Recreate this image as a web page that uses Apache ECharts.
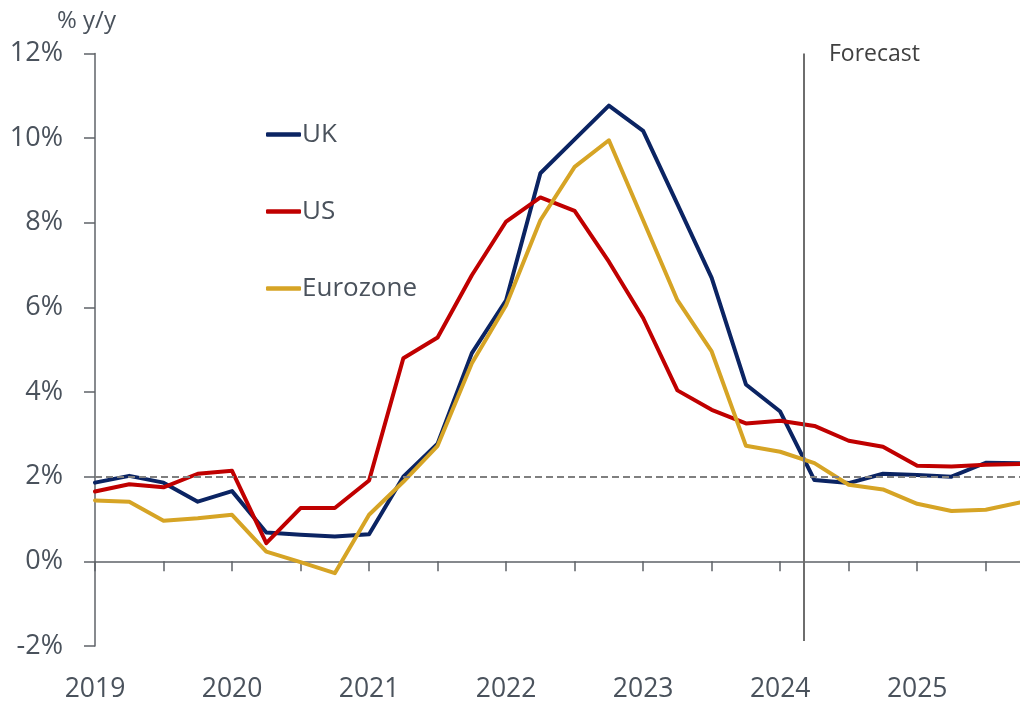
<!DOCTYPE html>
<html>
<head>
<meta charset="utf-8">
<title>CPI inflation</title>
<script src="https://cdn.jsdelivr.net/npm/echarts@6/dist/echarts.min.js"></script>
<style>
  html, body { margin: 0; padding: 0; background: #fff; }
  #chart { width: 1020px; height: 705px; }
</style>
</head>
<body>
<div id="chart"></div>
<script>
/*global echarts */

// ------------------------------ BEGIN DATA ---------------------------------
// quarterly, 2019 Q1 .. 2025 Q4 (index 0..27)
var years = ['2019', '2020', '2021', '2022', '2023', '2024', '2025'];
var seriesNames = ['UK', 'US', 'Eurozone'];
var ukValues = [
  1.86, 2.02, 1.86, 1.41, 1.66, 0.68, 0.63, 0.59, 0.64, 2.00, 2.78, 4.92, 6.17, 9.17,
  9.97, 10.77, 10.17, 8.44, 6.70, 4.18, 3.54, 1.92, 1.85, 2.07, 2.04, 2.00, 2.33, 2.32
];
var usValues = [
  1.65, 1.82, 1.75, 2.07, 2.14, 0.43, 1.26, 1.26, 1.91, 4.80, 5.29, 6.76, 8.03, 8.60,
  8.28, 7.08, 5.75, 4.04, 3.58, 3.26, 3.32, 3.20, 2.85, 2.71, 2.26, 2.24, 2.28, 2.30
];
var ezValues = [
  1.44, 1.41, 0.96, 1.02, 1.10, 0.23, -0.02, -0.28, 1.10, 1.88, 2.73, 4.68, 6.05, 8.06,
  9.32, 9.95, 8.06, 6.17, 4.96, 2.73, 2.59, 2.32, 1.81, 1.70, 1.36, 1.19, 1.22, 1.39
];
var targetRate = 2;
var forecastStart = 20.7;   // quarter index where the forecast begins
// ------------------------------- END DATA ----------------------------------

var chartCpi = (function () {
  var
    colorMap = { UK : '#0b2463', US : '#c00000', Eurozone : '#d6a425' },
    textColor = '#4a525c',
    axisColor = '#5f6368',
    fontFamily = '"Open Sans", "Noto Sans", sans-serif',
    lastIndex = ukValues.length - 1,

    toPairs, makeSeries, renderChart
  ;

  // Begin utility /toPairs/
  toPairs = function (values) {
    return values.map(function (v, i) { return [i, v]; });
  };
  // End utility /toPairs/

  // Begin utility /makeSeries/
  makeSeries = function (name, values) {
    return {
      name : name,
      type : 'line',
      data : toPairs(values),
      symbol : 'none',
      smooth : false,
      lineStyle : { color : colorMap[name], width : 4, cap : 'round', join : 'round' },
      itemStyle : { color : colorMap[name] },
      z : 3
    };
  };
  // End utility /makeSeries/

  // Begin DOM method /renderChart/
  renderChart = function () {
    var myChart, option, series, tickValues = [], i;

    myChart = echarts.init(document.getElementById('chart'), null, { renderer : 'canvas' });

    // a tick every half year, none at the right edge
    for (i = 0; i < lastIndex; i += 2) { tickValues.push(i); }

    series = [
      makeSeries('UK', ukValues),
      makeSeries('US', usValues),
      makeSeries('Eurozone', ezValues)
    ];

    // target line and forecast divider hang off the first series
    series[0].markLine = {
      silent : true,
      symbol : 'none',
      label : { show : false },
      animation : false,
      data : [
        {
          yAxis : targetRate,
          lineStyle : { color : '#7f7f7f', width : 2, type : [7, 4] }
        },
        [
          { coord : [forecastStart, 12], lineStyle : { color : '#6e6e6e', width : 2, type : 'solid' } },
          { coord : [forecastStart, -1.88] }
        ]
      ]
    };

    option = {
      animation : false,
      backgroundColor : '#ffffff',
      textStyle : { fontFamily : fontFamily },
      grid : {
        left : 95, right : 0, top : 53.5, bottom : 59,
        containLabel : false, outerBoundsMode : 'none'
      },
      legend : {
        data : seriesNames,
        orient : 'vertical',
        left : 261,
        top : 116.5,
        itemWidth : 35,
        itemHeight : 4.5,
        itemGap : 51,
        icon : 'roundRect',
        textStyle : {
          color : textColor, fontSize : 26, lineHeight : 26,
          fontFamily : fontFamily, padding : [0, 0, 0, -4]
        }
      },
      graphic : [
        {
          type : 'text', left : 57, top : 9,
          style : { text : '% y/y', fill : textColor, fontSize : 24, fontFamily : fontFamily }
        },
        {
          type : 'text', left : 829, top : 43,
          style : { text : 'Forecast', fill : '#404040', fontSize : 23, fontFamily : fontFamily }
        }
      ],
      xAxis : {
        type : 'value',
        min : 0,
        max : lastIndex,
        interval : 2,
        axisLine : { show : true, onZero : true, lineStyle : { color : axisColor, width : 1.5 } },
        axisTick : {
          show : true, length : 10, customValues : tickValues,
          lineStyle : { color : axisColor, width : 1.5 }
        },
        splitLine : { show : false },
        axisLabel : {
          margin : 30,
          color : textColor,
          fontSize : 26.5,
          fontFamily : fontFamily,
          formatter : function (v) {
            return (v % 4 === 0 && v / 4 < years.length) ? years[v / 4] : '';
          }
        }
      },
      yAxis : {
        type : 'value',
        min : -2,
        max : 12,
        interval : 2,
        axisLine : { show : true, lineStyle : { color : axisColor, width : 1.5 } },
        axisTick : { show : true, length : 11, lineStyle : { color : axisColor, width : 1.5 } },
        splitLine : { show : false },
        axisLabel : {
          margin : 32,
          color : textColor,
          fontSize : 27,
          fontFamily : fontFamily,
          formatter : '{value}%'
        }
      },
      series : series
    };

    myChart.setOption(option);
  };
  // End DOM method /renderChart/

  return { renderChart : renderChart };
}());

chartCpi.renderChart();
</script>
</body>
</html>
